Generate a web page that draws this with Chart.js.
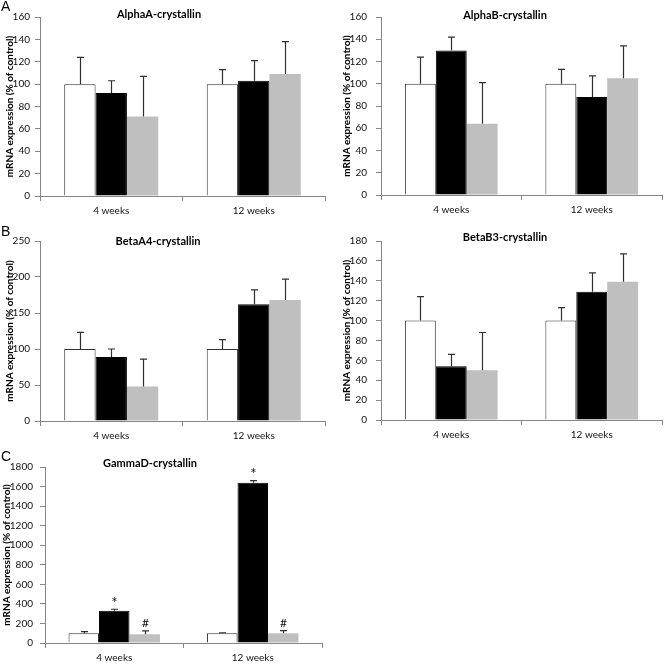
<!DOCTYPE html>
<html>
<head>
<meta charset="utf-8">
<title>Crystallin mRNA expression</title>
<script src="https://cdn.jsdelivr.net/npm/chart.js@4.4.1/dist/chart.umd.min.js"></script>
<style>
    html, body { margin: 0; padding: 0; background: #fff; }
    #page { position: relative; width: 664px; height: 664px; overflow: hidden; }
    .panel { position: absolute; }
    .panel canvas { display: block; }
</style>
</head>
<body>
<div id="page">
    <div class="panel" style="left:0;top:0"><canvas id="alphaA" width="332" height="225"></canvas></div>
    <div class="panel" style="left:332px;top:0"><canvas id="alphaB" width="332" height="225"></canvas></div>
    <div class="panel" style="left:0;top:225px"><canvas id="betaA4" width="332" height="225"></canvas></div>
    <div class="panel" style="left:332px;top:225px"><canvas id="betaB3" width="332" height="225"></canvas></div>
    <div class="panel" style="left:0;top:450px"><canvas id="gammaD" width="332" height="214"></canvas></div>
</div>
<script>
// categories on the x axis
var categories = ["4 weeks", "12 weeks"];
var seriesNames = ["white", "black", "grey"];

// means per series (rows: white, black, grey bars; columns: 4 weeks, 12 weeks)
var alphaAMeans = [[100, 100], [92, 103], [71, 109]];
var alphaASD = [[24, 13], [11, 18], [36, 29]];

var alphaBMeans = [[100, 100], [130, 88], [64, 105]];
var alphaBSD = [[24, 13], [12, 19], [37, 29]];

var betaA4Means = [[100, 100], [89, 162], [48, 168]];
var betaA4SD = [[23, 13], [11, 20], [38, 29]];

var betaB3Means = [[100, 100], [54, 129], [50, 139]];
var betaB3SD = [[24, 13], [12, 19], [38, 28]];

var gammaDMeans = [[100, 100], [331, 1640], [89, 99]];
var gammaDSD = [[17, 5], [14, 20], [34, 27]];
var gammaDMarks = [["", ""], ["*", "*"], ["#", "#"]];

// y axis ranges: max and step for each panel
var yMax = [160, 160, 250, 180, 1800];
var yStep = [20, 20, 50, 20, 200];

var FONT = "Lato, 'Open Sans', sans-serif";
var AXIS = "#868686";
var INK = "#111111";
var fills = ["#ffffff", "#000000", "#bfbfbf"];
var edges = ["#303030", "#000000", "#bfbfbf"];

// draws the upward error bar (with a cap) and any significance mark above it
var errorBars = {
    id: "errorBars",
    afterDatasetsDraw: function (chart) {
        var ctx = chart.ctx;
        var y = chart.scales.y;
        ctx.save();
        chart.data.datasets.forEach(function (ds, i) {
            chart.getDatasetMeta(i).data.forEach(function (bar, j) {
                var top = y.getPixelForValue(ds.data[j] + ds.sd[j]);
                var x = Math.round(bar.x) + 0.5;
                ctx.strokeStyle = "#303030";
                ctx.lineWidth = 1.2;
                ctx.beginPath();
                ctx.moveTo(x, bar.y);
                ctx.lineTo(x, top);
                ctx.moveTo(x - 3.5, top);
                ctx.lineTo(x + 3.5, top);
                ctx.stroke();
                if (ds.marks && ds.marks[j]) {
                    ctx.fillStyle = INK;
                    ctx.textAlign = "center";
                    ctx.textBaseline = "bottom";
                    ctx.font = ds.marks[j] === "*" ? "15px " + FONT : "12px " + FONT;
                    ctx.fillText(ds.marks[j], x, top - (ds.marks[j] === "*" ? -1 : 2));
                }
            });
        });
        ctx.restore();
    }
};

// panel letter and chart title
var panelText = {
    id: "panelText",
    afterDraw: function (chart, args, opts) {
        var ctx = chart.ctx;
        ctx.save();
        ctx.fillStyle = "#000";
        ctx.textBaseline = "middle";
        if (opts.letter) {
            ctx.textAlign = "left";
            ctx.font = "14px 'Liberation Sans', Arial, sans-serif";
            ctx.fillText(opts.letter, 1, 7);
        }
        ctx.textAlign = "center";
        ctx.font = "bold 11px " + FONT;
        ctx.fillText(opts.title, opts.titleX, opts.titleY);
        ctx.restore();
    }
};

function makePanel(id, idx, means, sd, marks, p) {
    var datasets = means.map(function (m, i) {
        return {
            label: seriesNames[i],
            data: m,
            sd: sd[i],
            marks: marks ? marks[i] : null,
            backgroundColor: fills[i],
            borderColor: edges[i],
            borderWidth: i === 2 ? 0 : 1
        };
    });
    return new Chart(document.getElementById(id), {
        type: "bar",
        data: { labels: categories, datasets: datasets },
        options: {
            responsive: false,
            animation: false,
            layout: { padding: { top: p.top, right: p.right, bottom: 0, left: 0 } },
            datasets: { bar: { barPercentage: 1, categoryPercentage: 0.66 } },
            plugins: {
                legend: { display: false },
                tooltip: { enabled: false },
                panelText: { letter: p.letter, title: p.title, titleX: p.titleX, titleY: p.titleY }
            },
            scales: {
                x: {
                    grid: { drawOnChartArea: false, tickLength: 5, color: AXIS, offset: true },
                    border: { color: AXIS, width: 1 },
                    ticks: { color: INK, padding: 4, font: { family: FONT, size: 10 }, maxRotation: 0 },
                    afterFit: function (s) { s.height = p.xHeight; }
                },
                y: {
                    min: 0,
                    max: yMax[idx],
                    ticks: {
                        stepSize: yStep[idx],
                        color: INK,
                        padding: p.tickPad,
                        font: { family: FONT, size: 10 },
                        callback: function (v) { return String(v); }
                    },
                    grid: { drawOnChartArea: false, tickLength: 5, color: AXIS },
                    border: { color: AXIS, width: 1 },
                    title: {
                        display: true,
                        text: "mRNA expression (% of control)",
                        color: "#000",
                        font: { family: FONT, size: 10, weight: "bold" },
                        padding: { top: p.titlePad, bottom: 0 }
                    },
                    afterFit: function (s) { s.width = p.yWidth; }
                }
            }
        },
        plugins: [errorBars, panelText]
    });
}

makePanel("alphaA", 0, alphaAMeans, alphaASD, null,
    { top: 17, right: 7, xHeight: 29, yWidth: 40, tickPad: 5, titlePad: 4, letter: "A", title: "AlphaA-crystallin", titleX: 159, titleY: 14 });
makePanel("alphaB", 1, alphaBMeans, alphaBSD, null,
    { top: 17, right: 2, xHeight: 30, yWidth: 49, tickPad: 9, titlePad: 9, letter: "", title: "AlphaB-crystallin", titleX: 173, titleY: 15 });
makePanel("betaA4", 2, betaA4Means, betaA4SD, null,
    { top: 16, right: 7, xHeight: 29, yWidth: 40, tickPad: 5, titlePad: 4, letter: "B", title: "BetaA4-crystallin", titleX: 158, titleY: 16 });
makePanel("betaB3", 3, betaB3Means, betaB3SD, null,
    { top: 16, right: 2, xHeight: 30, yWidth: 49, tickPad: 9, titlePad: 9, letter: "", title: "BetaB3-crystallin", titleX: 173, titleY: 12 });
makePanel("gammaD", 4, gammaDMeans, gammaDSD, gammaDMarks,
    { top: 17, right: 10, xHeight: 21, yWidth: 45, tickPad: 7, titlePad: 1, letter: "C", title: "GammaD-crystallin", titleX: 150, titleY: 13 });
</script>
</body>
</html>
